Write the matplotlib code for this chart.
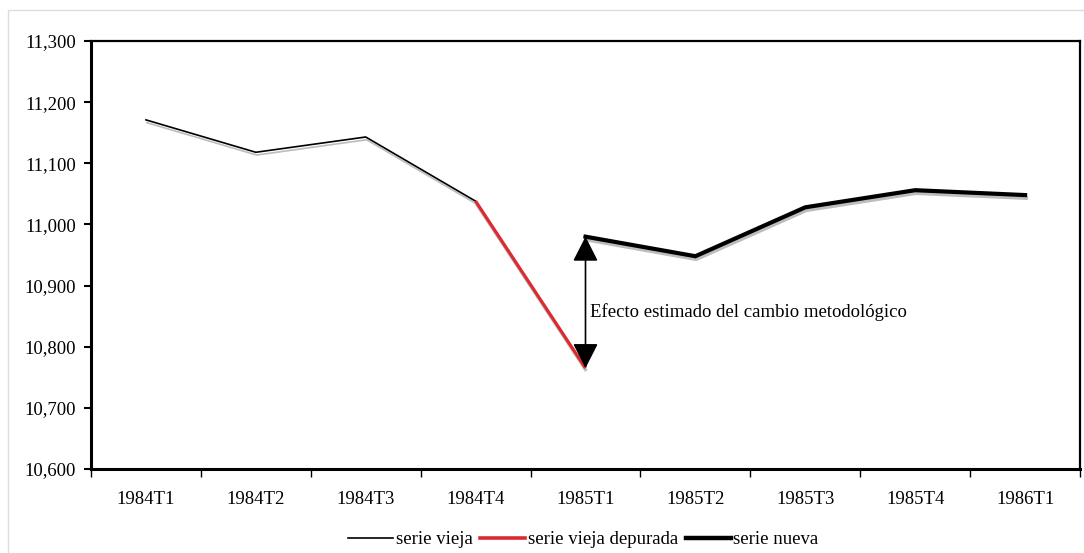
import matplotlib
matplotlib.use('Agg')
import matplotlib.pyplot as plt
import matplotlib.patheffects as pe
from matplotlib.lines import Line2D
from matplotlib.patches import Rectangle
from matplotlib.ticker import FuncFormatter, MultipleLocator

plt.rcParams['font.family'] = ['Liberation Serif', 'DejaVu Serif']

# Quarters on the x axis
quarters = ['1984T1', '1984T2', '1984T3', '1984T4', '1985T1',
            '1985T2', '1985T3', '1985T4', '1986T1']

# serie vieja (1984T1..1984T4)
vieja_q = ['1984T1', '1984T2', '1984T3', '1984T4']
vieja = [11171, 11118, 11143, 11038]

# serie vieja depurada (1984T4..1985T1)
depurada_q = ['1984T4', '1985T1']
depurada = [11038, 10765]

# serie nueva (1985T1..1986T1)
nueva_q = ['1985T1', '1985T2', '1985T3', '1985T4', '1986T1']
nueva = [10980, 10948, 11028, 11056, 11048]

annot_text = 'Efecto estimado del cambio metodológico'

pos = {q: i for i, q in enumerate(quarters)}
fs = 13.5

fig = plt.figure(figsize=(10.84, 5.53), dpi=100)
ax = fig.add_axes([91 / 1084, 84 / 553, 989 / 1084, 428 / 553])

shadow = [pe.SimpleLineShadow(offset=(0.6, -2.0), shadow_color='#bdbdbd', alpha=1.0), pe.Normal()]

ax.plot([pos[q] for q in vieja_q], vieja, color='black', lw=1.2,
        path_effects=shadow, solid_joinstyle='miter', zorder=3)
ax.plot([pos[q] for q in nueva_q], nueva, color='black', lw=3.0,
        path_effects=shadow, solid_joinstyle='miter', zorder=3)
ax.plot([pos[q] for q in depurada_q], depurada, color='#dc2b30', lw=2.3,
        path_effects=shadow, solid_capstyle='butt', zorder=4)

# Arrow showing the methodological change
x_arrow = pos['1985T1']
ax.annotate('', xy=(x_arrow, nueva[0]), xytext=(x_arrow, depurada[1]),
            arrowprops=dict(arrowstyle='<|-|>,head_length=0.55,head_width=0.28',
                            color='black', lw=1.2,
                            mutation_scale=28, shrinkA=0, shrinkB=0),
            zorder=5)
ax.text(x_arrow + 0.045, 10857, annot_text, ha='left', va='center', fontsize=fs)

ax.set_xlim(-0.5, len(quarters) - 0.5)
ax.set_ylim(10600, 11300)
ax.yaxis.set_major_locator(MultipleLocator(100))
ax.yaxis.set_major_formatter(FuncFormatter(lambda v, p: f'{v:,.0f}'))

ax.set_xticks(range(len(quarters)))
ax.set_xticklabels(quarters)
ax.set_xticks([i - 0.5 for i in range(len(quarters) + 1)], minor=True)
ax.tick_params(axis='x', which='major', length=0, pad=16, labelsize=fs)
ax.tick_params(axis='x', which='minor', length=6, width=1, direction='out')
ax.tick_params(axis='y', length=5, width=1.5, direction='out', labelsize=fs, pad=6)

for side in ['left', 'bottom']:
    ax.spines[side].set_linewidth(2.2)
for side in ['top', 'right']:
    ax.spines[side].set_linewidth(1.6)

handles = [Line2D([], [], color='black', lw=1.2),
           Line2D([], [], color='#dc2b30', lw=2.6),
           Line2D([], [], color='black', lw=3.2)]
fig.legend(handles, ['serie vieja', 'serie vieja depurada', 'serie nueva'],
           loc='center', bbox_to_anchor=(0.538, 0.024), ncol=3, frameon=False,
           fontsize=fs, handlelength=2.4, handletextpad=0.15, columnspacing=0.4)

# Light frame around the chart
fig.patches.append(Rectangle((8 / 1084, -0.02), 1.1, 1 - 10 / 553 + 0.02,
                             transform=fig.transFigure, fill=False,
                             edgecolor='#dcdcdc', lw=1.0))

fig.savefig('out.png', dpi=100)
